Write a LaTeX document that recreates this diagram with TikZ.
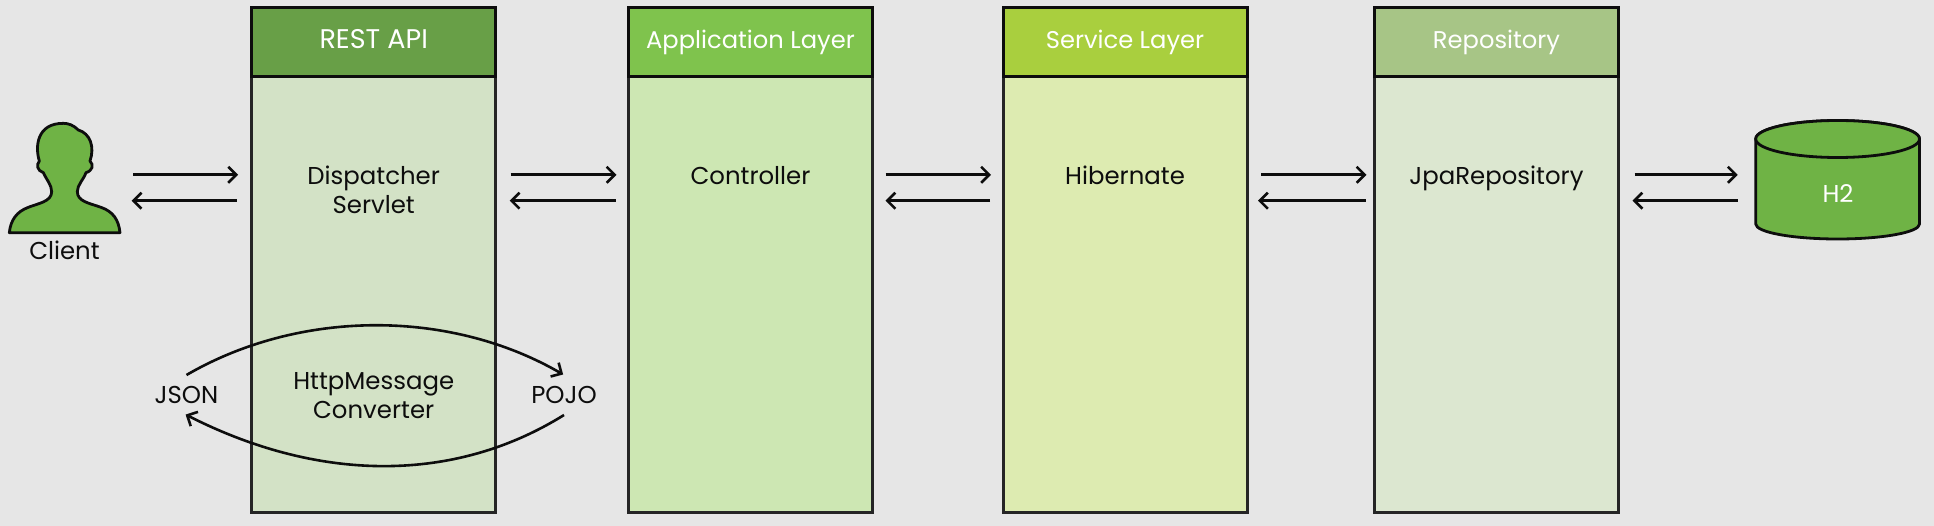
\documentclass[tikz,border=0pt]{standalone}
\usepackage{fontspec}
\setmainfont{Poppins}
\usetikzlibrary{arrows.meta}
\definecolor{bgc}{HTML}{E6E6E6}
\definecolor{hA}{HTML}{689F47}\definecolor{bA}{HTML}{D3E2C6}
\definecolor{hB}{HTML}{7FC34D}\definecolor{bB}{HTML}{CDE7B3}
\definecolor{hC}{HTML}{A9CF3E}\definecolor{bC}{HTML}{DDEBB1}
\definecolor{hD}{HTML}{A7C586}\definecolor{bD}{HTML}{DCE7D0}
\definecolor{gr}{HTML}{6FB345}
\definecolor{ink}{HTML}{0D0D0D}
\tikzset{
  headbox/.style={draw=ink,line width=3pt,minimum width=244pt,minimum height=68.5pt,inner sep=0pt,outer sep=0pt,
    text=white,font=\fontsize{24.2}{29}\selectfont,text height=17pt,text depth=4pt},
  bodybox/.style={draw=ink!90,line width=3pt,minimum width=244pt,minimum height=436pt,inner sep=0pt,outer sep=0pt},
  lab/.style={inner sep=0pt,outer sep=0pt,text=ink,align=center,font=\fontsize{24.4}{29}\selectfont},
  onelab/.style={lab,text height=17pt,text depth=0pt},
  sidelab/.style={lab,text height=17pt,text depth=0pt,minimum height=40pt},
  blank/.style={inner sep=0pt,outer sep=0pt},
  conn/.style={draw=ink,line width=2.6pt,-{Straight Barb[length=8pt,width=16pt,line width=2.6pt]}},
  outline/.style={draw=ink,line width=2.8pt,line join=round,fill=gr}
}
\begin{document}
\begin{tikzpicture}[x=1pt,y=-1pt]
\useasboundingbox (0,0) rectangle (1934,526);
\fill[bgc] (0,0) rectangle (1934,526);
% layer bodies and headers
\node[bodybox,fill=bA] (rest) at (373.7,294.5) {};
\node[bodybox,fill=bB] (app) at (750.5,294.5) {};
\node[bodybox,fill=bC] (svc) at (1125,294.5) {};
\node[bodybox,fill=bD] (repo) at (1496.5,294.5) {};
\node[headbox,fill=hA,font=\fontsize{27}{29}\selectfont] (resth) at (373.7,42) {REST API};
\node[headbox,fill=hB] (apph) at (750.5,42) {Application Layer};
\node[headbox,fill=hC] (svch) at (1125,42) {Service Layer};
\node[headbox,fill=hD] (repoh) at (1496.5,42) {Repository};
% client silhouette
\node[blank,minimum width=110.7pt,minimum height=110pt] (client) at (64.8,177.7) {};
\begin{scope}[shift={(0,100)},x=0.3333pt,y=-0.3333pt]
\draw[outline] (28,398)
  .. controls (32,360) and (50,335) .. (85,322)
  .. controls (115,310) and (155,305) .. (155,275)
  .. controls (155,255) and (140,240) .. (130,218)
  .. controls (112,212) and (108,195) .. (118,183)
  .. controls (105,140) and (110,70) .. (190,70)
  .. controls (205,70) and (220,75) .. (235,90)
  .. controls (270,100) and (285,140) .. (270,183)
  .. controls (282,195) and (278,212) .. (258,218)
  .. controls (250,240) and (232,255) .. (232,275)
  .. controls (232,305) and (270,310) .. (303,322)
  .. controls (340,335) and (356,360) .. (360,398)
  -- cycle;
\end{scope}
\node[onelab] (clientl) at (64.5,251) {Client};
% database
\node[blank,minimum width=163.8pt,minimum height=118pt] (db) at (1837.6,180) {};
\draw[outline] (1755.7,139) -- (1755.7,224) arc[start angle=180,end angle=360,x radius=81.9pt,y radius=15pt] -- (1919.5,139) arc[start angle=0,end angle=180,x radius=81.9pt,y radius=18.5pt] -- cycle;
\draw[outline] (1837.6,139) ellipse[x radius=81.9pt,y radius=18.5pt];
\node[onelab,text=white] (h2) at (1838,194) {H2};
% inner labels
\node[lab] (disp) at (373.7,190) {Dispatcher\\Servlet};
\node[lab] (conv) at (373.7,396) {HttpMessage\\Converter};
\node[onelab] (ctrl) at (750.5,175.8) {Controller};
\node[onelab] (hib) at (1125,175.8) {Hibernate};
\node[onelab] (jpa) at (1496.5,175.8) {JpaRepository};
\node[sidelab] (json) at (186.5,395) {JSON};
\node[sidelab] (pojo) at (564,395) {POJO};
% helper rows
\coordinate (up) at (0,174.8);
\coordinate (lo) at (0,200.7);
% connectors
\draw[conn,shorten <=13pt,shorten >=13.6pt] (client.east |- up) -- (rest.west |- up);
\draw[conn,shorten <=15pt,shorten >=11.5pt] (rest.west |- lo) -- (client.east |- lo);
\draw[conn,shorten <=15pt,shorten >=12pt] (rest.east |- up) -- (app.west |- up);
\draw[conn,shorten <=13pt,shorten >=14pt] (app.west |- lo) -- (rest.east |- lo);
\draw[conn,shorten <=13pt,shorten >=12pt] (app.east |- up) -- (svc.west |- up);
\draw[conn,shorten <=13pt,shorten >=13pt] (svc.west |- lo) -- (app.east |- lo);
\draw[conn,shorten <=14pt,shorten >=8pt] (svc.east |- up) -- (repo.west |- up);
\draw[conn,shorten <=9pt,shorten >=11pt] (repo.west |- lo) -- (svc.east |- lo);
\draw[conn,shorten <=16pt,shorten >=18pt] (repo.east |- up) -- (db.west |- up);
\draw[conn,shorten <=18pt,shorten >=14pt] (db.west |- lo) -- (repo.east |- lo);
\draw[conn,shorten >=1pt] (json.north) .. controls (300,309) and (450,309) .. (pojo.north);
\draw[conn,shorten >=-1pt] (pojo.south) .. controls (455,483) and (320,483) .. (json.south);
\end{tikzpicture}
\end{document}
